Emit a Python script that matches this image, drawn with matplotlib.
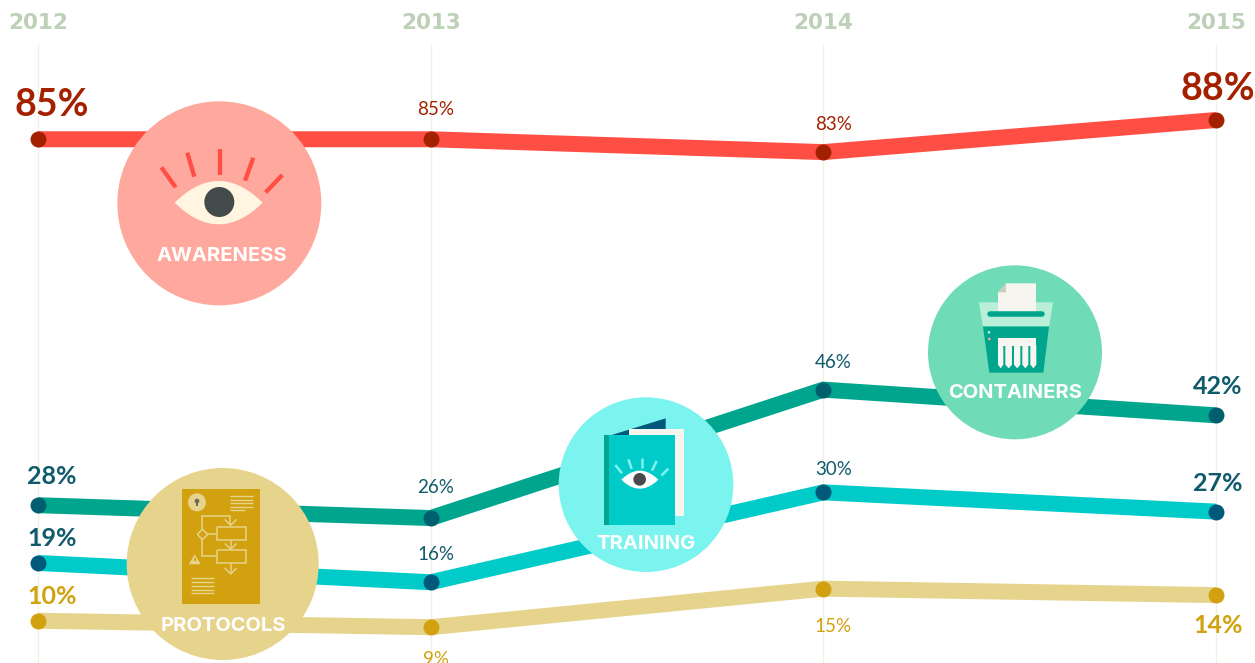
import matplotlib
matplotlib.use('Agg')
import matplotlib.pyplot as plt
from matplotlib.patches import Circle, Polygon

plt.rcParams['font.family'] = ['Lato', 'DejaVu Sans']

years = [2012, 2013, 2014, 2015]
awareness = [85, 85, 83, 88]
containers = [28, 26, 46, 42]
training = [19, 16, 30, 27]
protocols = [10, 9, 15, 14]

RED, RED_DARK, RED_LIGHT = '#FF4F45', '#A32100', '#FFA99E'
GREEN, GREEN_LIGHT, GREEN_PALE = '#00A58E', '#6FDBB7', '#B9EFD9'
CYAN, CYAN_LIGHT = '#00CBC9', '#7BF3EE'
GOLD, KHAKI = '#D2A10F', '#E6D38C'
NAVY = '#00597A'
TEAL_TEXT = '#0F5A6B'
PAPER = '#F7F5F0'

W, H = 1255, 663
fig = plt.figure(figsize=(W / 100, H / 100), dpi=100, facecolor='white')

# data axes, limits chosen so the years and percentages land as in the reference
ax = fig.add_axes([0, 0, 1, 1])
px_year = 392.67
px_pct = 6.42
ax.set_xlim(2012 - 38 / px_year, 2012 + (W - 38) / px_year)
ax.set_ylim(88 - (H - 120) / px_pct, 88 + 120 / px_pct)
ax.axis('off')

for yr in years:
    ax.axvline(yr, ymax=1 - 45 / H, color='#EFF1E2', lw=0.9, zorder=1)
    ax.annotate(str(yr), (yr, 1), xycoords=('data', 'axes fraction'),
                xytext=(0, -23), textcoords='offset pixels', ha='center', va='center',
                fontsize=15.5, fontweight='bold', family='DejaVu Sans', color='#BDD0B8',
                annotation_clip=False)

series = [
    (protocols, KHAKI, GOLD),
    (training, CYAN, NAVY),
    (containers, GREEN, '#005F6E'),
    (awareness, RED, RED_DARK),
]
for vals, line_c, dot_c in series:
    ax.plot(years, vals, color=line_c, lw=11.5, solid_joinstyle='miter',
            solid_capstyle='butt', zorder=2)
    ax.plot(years, vals, 'o', color=dot_c, ms=11.5, mew=0, zorder=3)

# label offsets in pixels from each point (dx, dy up)
label_offsets = {
    'awareness': [(14, 34), (5, 30), (10, 28), (2, 31)],
    'containers': [(14, 29), (5, 31), (10, 27), (2, 29)],
    'training': [(14, 24), (5, 28), (10, 23), (2, 28)],
    'protocols': [(14, 24), (5, -32), (10, -38), (2, -30)],
}
end_label = [True, False, False, True]
for name, vals, col in [('awareness', awareness, RED_DARK),
                        ('containers', containers, TEAL_TEXT),
                        ('training', training, TEAL_TEXT),
                        ('protocols', protocols, GOLD)]:
    for i, v in enumerate(vals):
        big = end_label[i]
        size = (27 if name == 'awareness' else 18) if big else 13.5
        ax.annotate(f'{v}%', (years[i], v), xytext=label_offsets[name][i],
                    textcoords='offset pixels', ha='center', va='center', fontsize=size,
                    fontweight='bold' if big else 'normal', color=col, zorder=4,
                    annotation_clip=False)

# icon layer in image pixels
icons = fig.add_axes([0, 0, 1, 1])
icons.set_xlim(0, W)
icons.set_ylim(H, 0)
icons.axis('off')
icons.patch.set_alpha(0)


def seg(pts, color, width, ox=0, oy=0, cap='butt'):
    xs = [ox + p[0] / 3 for p in pts]
    ys = [oy + p[1] / 3 for p in pts]
    icons.plot(xs, ys, color=color, lw=width * 0.72, solid_capstyle=cap, solid_joinstyle='miter')


def poly(pts, color, ox=0, oy=0):
    icons.add_patch(Polygon([(ox + p[0] / 3, oy + p[1] / 3) for p in pts], closed=True,
                            fc=color, ec='none'))


def box(x0, y0, x1, y1, color, ox, oy):
    poly([(x0, y0), (x1, y0), (x1, y1), (x0, y1)], color, ox, oy)


def disc(x, y, r, color, ox, oy):
    icons.add_patch(Circle((ox + x / 3, oy + y / 3), r / 3, fc=color, ec='none'))


def almond(x0, x1, cy, half, color, ox, oy, n=24):
    top, bottom = [], []
    for i in range(n + 1):
        t = i / n
        x = x0 + (x1 - x0) * t
        d = half * 4 * t * (1 - t)
        top.append((x, cy - d))
        bottom.append((x, cy + d))
    poly(top + bottom[::-1], color, ox, oy)


def badge_label(txt, x, y):
    icons.text(x, y, txt, ha='center', va='center', color='white', fontsize=14.5,
               fontweight='bold', family='Inter')


# awareness
ox, oy = 100, 90
disc(358, 340, 306, RED_LIGHT, ox, oy)
almond(224, 488, 338, 65, '#FFF5E1', ox, oy)
disc(358, 336, 45, '#434A4A', ox, oy)
for a, b in [((184, 232), (227, 292)), ((262, 188), (283, 260)), ((361, 178), (361, 254)),
             ((460, 203), (435, 272)), ((547, 255), (497, 307))]:
    seg([a, b], RED, 4.3, ox, oy)
badge_label('AWARENESS', 222, 256)

# protocols
ox, oy = 110, 460
disc(338, 312, 288, KHAKI, ox, oy)
box(216, 87, 449, 433, GOLD, ox, oy)
disc(261, 127, 27, KHAKI, ox, oy)
disc(261, 123, 7, '#6B6B55', ox, oy)
box(258, 124, 264, 139, '#6B6B55', ox, oy)
for y in [108, 119, 130, 141]:
    seg([(360, y), (428, y)], KHAKI, 1.4, ox, oy)
seg([(360, 151), (406, 151)], KHAKI, 1.4, ox, oy)
for y in [355, 366, 378, 389, 400]:
    seg([(243, y), (312, y)], KHAKI, 1.4, ox, oy)
seg([(277, 207), (277, 168), (361, 168), (361, 196)], KHAKI, 1.5, ox, oy)
seg([(277, 239), (277, 289), (320, 289)], KHAKI, 1.5, ox, oy)
seg([(293, 223), (320, 223)], KHAKI, 1.5, ox, oy)
seg([(262, 223), (277, 208), (293, 223), (277, 239), (262, 223)], KHAKI, 1.5, ox, oy)
seg([(320, 202), (408, 202), (408, 240), (320, 240), (320, 202)], KHAKI, 1.5, ox, oy)
seg([(320, 271), (408, 271), (408, 309), (320, 309), (320, 271)], KHAKI, 1.5, ox, oy)
seg([(362, 240), (362, 268)], KHAKI, 1.5, ox, oy)
seg([(362, 309), (362, 342)], KHAKI, 1.5, ox, oy)
for tip in [196, 268, 342]:
    seg([(344, tip - 18), (362, tip), (380, tip - 18)], KHAKI, 1.5, ox, oy)
poly([(236, 313), (272, 313), (254, 283)], KHAKI, ox, oy)
box(251, 295, 257, 303, GOLD, ox, oy)
badge_label('PROTOCOLS', 223, 626)

# training
ox, oy = 550, 390
disc(288, 284, 262, CYAN_LIGHT, ox, oy)
poly([(185, 135), (347, 85), (347, 135)], NAVY, ox, oy)
box(236, 117, 402, 377, PAPER, ox, oy)
box(162, 135, 375, 404, CYAN, ox, oy)
box(162, 135, 177, 404, GREEN, ox, oy)
almond(214, 325, 269, 27, 'white', ox, oy)
disc(269, 268, 19, '#4A4A4E', ox, oy)
for a, b in [((196, 225), (216, 250)), ((235, 208), (245, 237)), ((277, 203), (277, 234)),
             ((320, 213), (306, 242)), ((355, 236), (334, 257))]:
    seg([a, b], CYAN_LIGHT, 2.6, ox, oy)
badge_label('TRAINING', 646, 544)

# containers
ox, oy = 920, 260
disc(285, 277, 261, GREEN_LIGHT, ox, oy)
poly([(177, 127), (399, 127), (388, 198), (188, 198)], GREEN_PALE, ox, oy)
seg([(210, 161), (365, 161)], GREEN, 5.5, ox, oy, cap='round')
poly([(234, 97), (258, 70), (348, 70), (348, 159), (234, 159)], PAPER, ox, oy)
poly([(234, 97), (258, 70), (258, 97)], '#C9CFBC', ox, oy)
poly([(189, 200), (387, 200), (370, 338), (208, 338)], GREEN, ox, oy)
disc(207, 217, 4, GREEN_PALE, ox, oy)
disc(208, 237, 4, RED_LIGHT, ox, oy)
box(234, 235, 349, 258, PAPER, ox, oy)
for x0, x1 in [(234, 250), (256, 276), (282, 301), (307, 325), (331, 349)]:
    xm = (x0 + x1) / 2
    poly([(x0, 255), (x1, 255), (x1, 314), (xm, 325), (x0, 314)], PAPER, ox, oy)
badge_label('CONTAINERS', 1015, 393)

fig.savefig('out.png', dpi=100)
